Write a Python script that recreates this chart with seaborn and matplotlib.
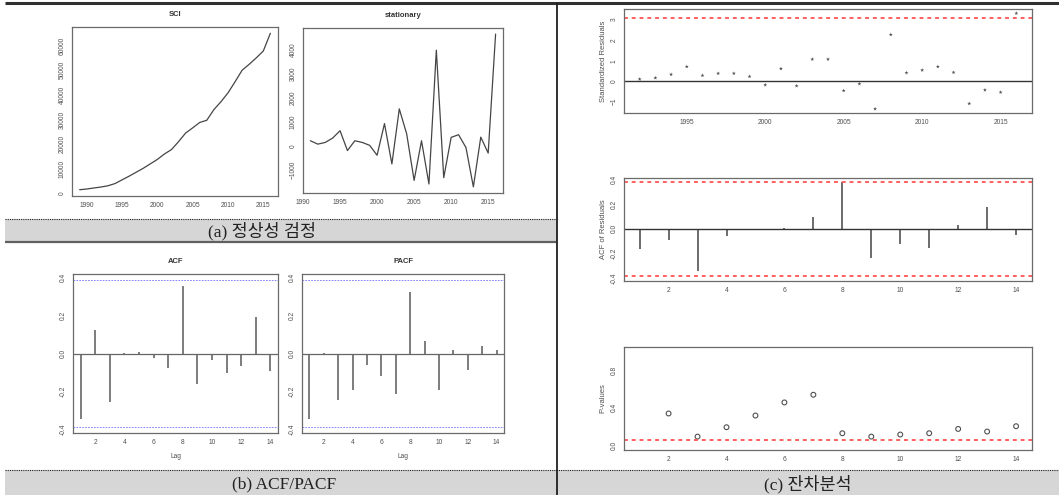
import numpy as np
import pandas as pd
import matplotlib
matplotlib.use("Agg")
import matplotlib.pyplot as plt
import seaborn as sns

# ---- data ----
sci_years = list(range(1989, 2017))
sci_values = [1500, 1800, 2200, 2600, 3100, 4000, 5500, 7000, 8600, 10200,
              12000, 13800, 16000, 17800, 21000, 24500, 26600, 28800, 29700,
              34000, 37200, 40800, 45300, 50000, 52400, 55000, 57800, 65000]

stat_years = list(range(1991, 2017))
stat_values = [210, 70, 140, 320, 625, -195, 210, 140, 20, -390, 920, -750,
               1530, 490, -1430, 210, -1580, 3960, -1320, 350, 460, -70,
               -1700, 360, -300, 4625]

lags = list(range(1, 15))
acf_values = [-0.345, 0.123, -0.257, 0.003, 0.008, -0.023, -0.077, 0.355,
              -0.161, -0.035, -0.105, -0.065, 0.193, -0.091]
pacf_values = [-0.347, 0.002, -0.245, -0.194, -0.058, -0.116, -0.215, 0.324,
               0.065, -0.194, 0.018, -0.088, 0.040, 0.021]
conf_limit = 0.385

res_years = list(range(1992, 2017))
std_resid = [0.10, 0.16, 0.33, 0.71, 0.28, 0.38, 0.38, 0.23, -0.18, 0.61,
             -0.23, 1.07, 1.07, -0.46, -0.13, -1.35, 2.27, 0.41, 0.54, 0.71,
             0.43, -1.09, -0.43, -0.54, 3.31]
resid_limit = 3.1

resid_acf = [-0.167, -0.09, -0.344, -0.063, 0.0, 0.01, 0.096, 0.38, -0.235,
             -0.126, -0.158, 0.033, 0.178, -0.05]

pv_lags = list(range(2, 15))
p_values = [0.336, 0.089, 0.189, 0.314, 0.454, 0.536, 0.125, 0.089, 0.111,
            0.125, 0.171, 0.143, 0.2]

captions = ["(a) 정상성 검정", "(b) ACF/PACF", "(c) 잔차분석"]

# ---- figure ----
W, H = 1059, 495
sns.set_style("white")
plt.rcParams["font.family"] = ["Liberation Sans", "DejaVu Sans"]
fig = plt.figure(figsize=(W / 100, H / 100), dpi=100)

def rect(l, t, r, b):
    return [l / W, 1 - b / H, (r - l) / W, (b - t) / H]

line_col = "#454545"
frame_col = "#6a6a6a"
txt_col = "#505050"

def r_style(ax, xticks, yticks, ylabels=None):
    for s in ax.spines.values():
        s.set_color(frame_col)
        s.set_linewidth(0.9)
    ax.set_xticks(xticks)
    ax.set_yticks(yticks)
    if ylabels is not None:
        ax.set_yticklabels(ylabels)
    ax.tick_params(axis="both", direction="out", length=2.5, width=0.6,
                   color=frame_col, labelsize=4.8, labelcolor=txt_col, pad=2)
    for lab in ax.get_yticklabels():
        lab.set_rotation(90)
        lab.set_va("center")
    ax.set_xlabel("")
    ax.set_ylabel("")

# background: table lines and caption bands
bg = fig.add_axes([0, 0, 1, 1], zorder=-1)
bg.set_xlim(0, W)
bg.set_ylim(H, 0)
bg.axis("off")
bg.fill_between([5, 557], 219, 241, color="#d6d6d6", lw=0)
bg.fill_between([5, W], 470, H, color="#d6d6d6", lw=0)
bg.hlines(3, 5, W, color="#303030", lw=2.2)
bg.hlines(242, 5, 557, color="#606060", lw=1.6)
bg.hlines([219], 5, 557, color="#222222", lw=0.8, linestyles=(0, (1, 1)))
bg.hlines([470], 5, W, color="#222222", lw=0.8, linestyles=(0, (1, 1)))
bg.vlines(557, 3, H, color="#202020", lw=1.3)
cap_font = ["Liberation Serif", "Noto Sans CJK KR"]
bg.text(262, 231, captions[0], ha="center", va="center", fontsize=12.5,
        family=cap_font, color="#222222")
bg.text(284, 484, captions[1], ha="center", va="center", fontsize=12.5,
        family=cap_font, color="#222222")
bg.text(808, 484, captions[2], ha="center", va="center", fontsize=12.5,
        family=cap_font, color="#222222")

# (a) SCI
ax = fig.add_axes(rect(72, 27, 278, 196))
sns.lineplot(x=sci_years, y=sci_values, ax=ax, color=line_col, lw=0.9)
ax.margins(x=0.04, y=0.04)
r_style(ax, range(1990, 2016, 5), range(0, 60001, 10000))
ax.set_title("SCI", fontsize=5.5, fontweight="bold", color="#333333", pad=8)

# (a) stationary
ax = fig.add_axes(rect(303, 28, 503, 193))
sns.lineplot(x=stat_years, y=stat_values, ax=ax, color=line_col, lw=0.9)
ax.margins(x=0.04, y=0.04)
r_style(ax, range(1990, 2016, 5), range(-1000, 4001, 1000))
ax.set_title("stationary", fontsize=5.5, fontweight="bold", color="#333333", pad=8)

# (b) ACF / PACF
acf_ticks = [-0.4, -0.2, 0.0, 0.2, 0.4]
acf_labels = ["-0.4", "-0.2", "0.0", "0.2", "0.4"]
for (l, r), vals, name in [((73, 278), acf_values, "ACF"),
                           ((302, 504), pacf_values, "PACF")]:
    ax = fig.add_axes(rect(l, 274, r, 433))
    df = pd.DataFrame({"lag": lags, "val": vals})
    ax.vlines(df["lag"], 0, df["val"], color="#666666", lw=1.2)
    ax.axhline(0, color="#666666", lw=0.9)
    for c in (conf_limit, -conf_limit):
        ax.axhline(c, color="#7070ff", lw=0.6, ls=(0, (2, 1.5)))
    ax.set_xlim(0.48, 14.52)
    ax.set_ylim(-0.418, 0.418)
    r_style(ax, range(2, 15, 2), acf_ticks, acf_labels)
    ax.set_xlabel("Lag", fontsize=4.8, color=txt_col, labelpad=5)
    ax.set_title(name, fontsize=5.5, fontweight="bold", color="#333333", pad=8)

# (c) standardized residuals
ax = fig.add_axes(rect(624, 9, 1032, 113))
sns.scatterplot(x=res_years, y=std_resid, ax=ax, marker="*", s=9,
                color="#505050", edgecolor="none")
ax.axhline(0, color="#333333", lw=1.0)
ax.axhline(resid_limit, color="#ff6060", lw=1.4, ls=(0, (2, 2)))
ax.set_xlim(1991.0, 2017.0)
ax.set_ylim(-1.55, 3.52)
r_style(ax, range(1995, 2016, 5), range(-1, 4))
ax.set_ylabel("Standardized Residuals", fontsize=5.5, color=txt_col, labelpad=3)

# (c) ACF of residuals
ax = fig.add_axes(rect(624, 178, 1032, 281))
ax.vlines(lags, 0, resid_acf, color="#444444", lw=1.1)
ax.axhline(0, color="#333333", lw=1.0)
for c in (conf_limit, -conf_limit):
    ax.axhline(c, color="#ff6060", lw=1.4, ls=(0, (2, 2)))
ax.set_xlim(0.46, 14.55)
ax.set_ylim(-0.426, 0.414)
r_style(ax, range(2, 15, 2), acf_ticks, acf_labels)
ax.set_ylabel("ACF of Residuals", fontsize=5.5, color=txt_col, labelpad=3)

# (c) p-values
ax = fig.add_axes(rect(624, 347, 1032, 450))
sns.scatterplot(x=pv_lags, y=p_values, ax=ax, s=12, facecolor="none",
                edgecolor="#505050", linewidth=0.8)
ax.axhline(0.05, color="#ff6060", lw=1.4, ls=(0, (2, 2)))
ax.set_xlim(0.46, 14.55)
ax.set_ylim(-0.054, 1.046)
r_style(ax, range(2, 15, 2), [0, 0.2, 0.4, 0.6, 0.8, 1.0],
        ["0.0", "", "0.4", "", "0.8", ""])
ax.set_ylabel("P-values", fontsize=5.5, color=txt_col, labelpad=3)

fig.savefig("out.png", dpi=100)
